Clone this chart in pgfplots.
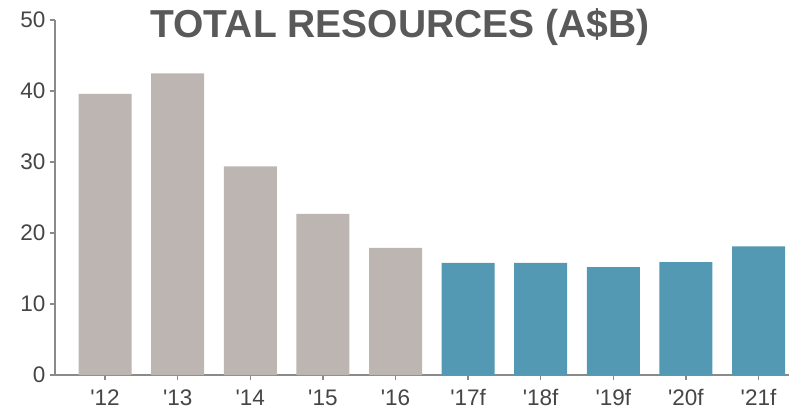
\documentclass[border=0pt]{standalone}
\usepackage{fontspec}
\setmainfont{Liberation Sans}
\usepackage{pgfplots}
\pgfplotsset{compat=1.18}
\definecolor{bargray}{HTML}{BDB5B1}
\definecolor{barblue}{HTML}{5499B4}
\definecolor{txt}{HTML}{454545}
\definecolor{ttl}{HTML}{595959}
\definecolor{axc}{HTML}{8A8A8A}
\begin{document}
\begin{tikzpicture}
\useasboundingbox (-55pt,-38pt) rectangle (734pt,375pt);
\begin{axis}[
  scale only axis,
  width=734pt, height=355pt,
  xmin=-0.69, xmax=9.42,
  ymin=0, ymax=50,
  ytick={0,10,20,30,40,50},
  xtick={0,...,9},
  xticklabels={\textquotesingle12,\textquotesingle13,\textquotesingle14,\textquotesingle15,\textquotesingle16,\textquotesingle17f,\textquotesingle18f,\textquotesingle19f,\textquotesingle20f,\textquotesingle21f},
  axis x line*=bottom, axis y line*=left,
  axis line style={axc, line width=1.3pt, -},
  tick style={axc, line width=1.3pt},
  tick align=outside,
  major tick length=5pt,
  /pgf/number format/assume math mode=true,
  ticklabel style={font=\fontsize{22.5}{26}\selectfont, text=txt},
  yticklabel style={xshift=-1pt},
  xticklabel style={yshift=-6pt},
  ybar, bar width=53pt,
  enlargelimits=false,
  clip=false,
]
\addplot[draw=none, fill=bargray, bar shift=0pt] coordinates {(0,39.6) (1,42.5) (2,29.4) (3,22.7) (4,17.9)};
\addplot[draw=none, fill=barblue, bar shift=0pt] coordinates {(5,15.8) (6,15.8) (7,15.2) (8,15.9) (9,18.1)};
\node[anchor=base, font=\fontsize{39}{44}\selectfont\bfseries, text=ttl] at (rel axis cs:0.47,0.952) {TOTAL RESOURCES (A\$B)};
\end{axis}
\end{tikzpicture}
\end{document}
